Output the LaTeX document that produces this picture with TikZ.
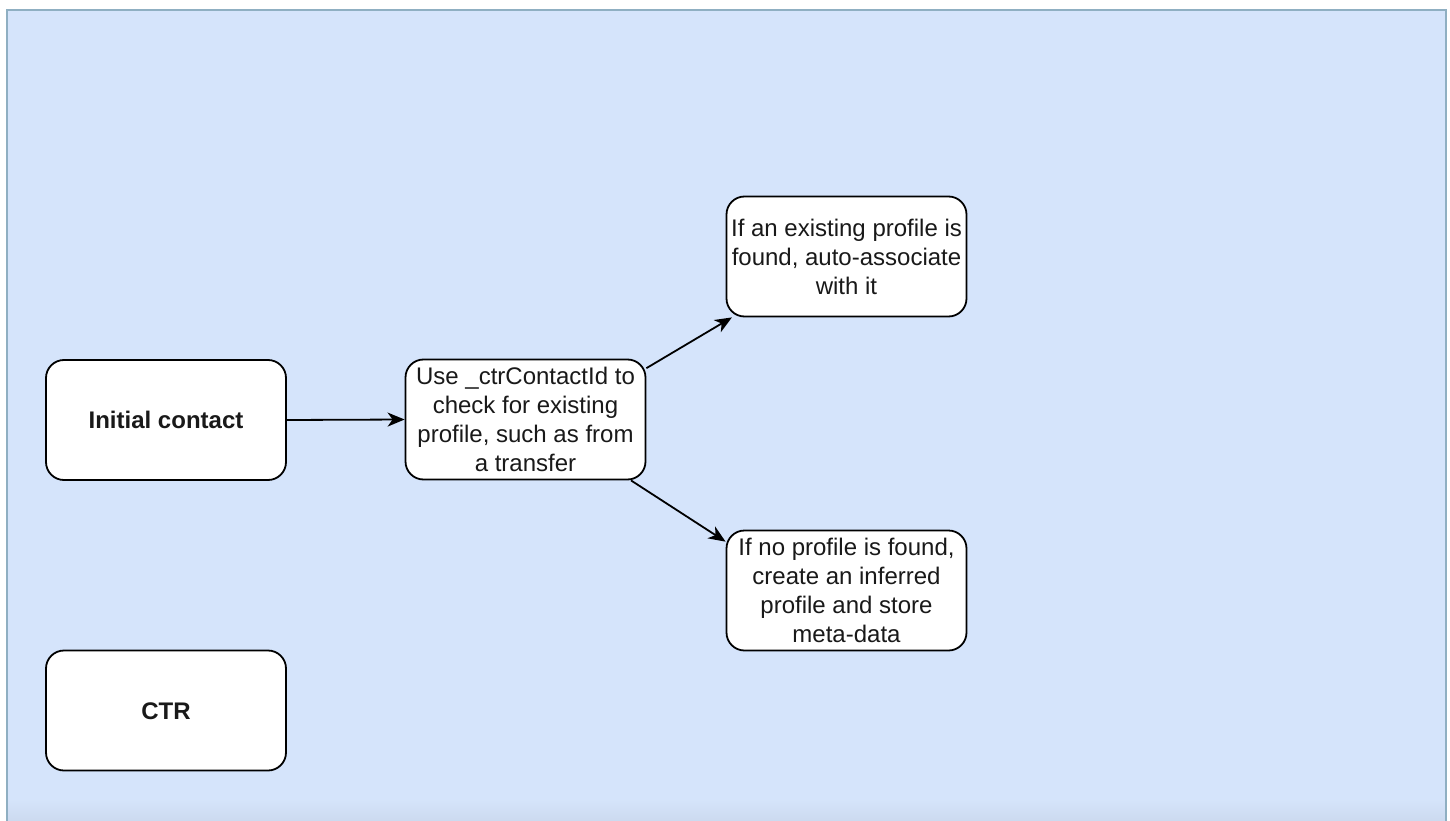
\documentclass[tikz,border=0pt]{standalone}
\usepackage{fontspec}
\setmainfont{Liberation Sans}
\usetikzlibrary{arrows.meta}
\definecolor{bgblue}{HTML}{D5E4FB}
\definecolor{bgblue2}{HTML}{CCDAEF}
\definecolor{frame}{HTML}{8FAFC2}
\newcommand\boxtext[1]{\raisebox{-3pt}[\height][\depth]{\begin{tabular}{@{}c@{}}#1\end{tabular}}}
\begin{document}
\begin{tikzpicture}[x=1pt,y=-1pt,
  box/.style={draw=black, line width=1.8pt, fill=white, rounded corners=18pt,
    minimum width=240pt, minimum height=120pt, inner sep=0pt, align=center,
    font=\fontsize{24}{29}\selectfont, text=black!90},
  arr/.style={line width=1.8pt, -{Stealth[length=17pt,width=14pt,inset=5pt]}}]
\useasboundingbox (0,0) rectangle (1450,821);
\fill[white] (0,0) rectangle (1450,821);
\fill[bgblue] (7,10) rectangle (1446,800);
\shade[top color=bgblue, bottom color=bgblue2] (7,799) rectangle (1446,821);
\draw[frame, line width=1.5pt] (7,821) -- (7,10) -- (1446,10) -- (1446,821);
\node[box, font=\fontsize{24}{29}\selectfont\bfseries] (ic) at (166,420) {\boxtext{Initial contact}};
\node[box, font=\fontsize{24}{29}\selectfont\bfseries] (ctr) at (166,710.5) {\boxtext{CTR}};
\node[box] (mid) at (525.5,419.5) {\boxtext{Use \_ctrContactId to\\check for existing\\profile, such as from\\a transfer}};
\node[box] (top) at (846.5,256.5) {\boxtext{If an existing profile is\\found, auto-associate\\with it}};
\node[box] (bot) at (846.5,590.5) {\boxtext{If no profile is found,\\create an inferred\\profile and store\\meta-data}};
\draw[arr] (ic.east) -- (mid.west);
\draw[arr] (mid.23.7) -- (top.208.7);
\draw[arr] (mid.-30.5) -- (bot.158.2);
\end{tikzpicture}
\end{document}
